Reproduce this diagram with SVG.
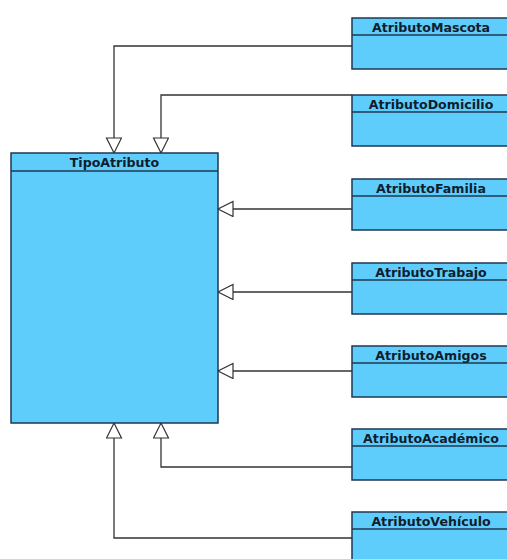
<svg xmlns="http://www.w3.org/2000/svg" width="507" height="559" viewBox="0 0 507 559">
<defs>
<style>
.box{fill:#5ecdfb;stroke:#1f3852;stroke-width:1.5}
.sep{stroke:#1f3852;stroke-width:1.5}
.t{font-family:"DejaVu Sans",sans-serif;font-weight:bold;font-size:12.6px;fill:#111c2e;text-anchor:middle}
.c{fill:none;stroke:#333;stroke-width:1.3}
</style>
<marker id="tri" markerWidth="18" markerHeight="18" refX="16" refY="8" orient="auto" markerUnits="userSpaceOnUse">
<path d="M1,0.5 L16,8 L1,15.5 Z" fill="#fff" stroke="#333" stroke-width="1.2"/>
</marker>
</defs>
<rect width="507" height="559" fill="#fff"/>
<g id="connectors">
<path class="c" d="M352,46 H114 V153" marker-end="url(#tri)"/>
<path class="c" d="M352,95 H161 V153" marker-end="url(#tri)"/>
<path class="c" d="M352,209 H218" marker-end="url(#tri)"/>
<path class="c" d="M352,292 H218" marker-end="url(#tri)"/>
<path class="c" d="M352,371 H218" marker-end="url(#tri)"/>
<path class="c" d="M352,467 H161 V423" marker-end="url(#tri)"/>
<path class="c" d="M352,538 H114 V423" marker-end="url(#tri)"/>
</g>
<g id="TipoAtributo">
<rect class="box" x="11" y="153" width="207" height="270"/>
<line class="sep" x1="11" y1="171" x2="218" y2="171"/>
<text class="t" x="114.5" y="167">TipoAtributo</text>
</g>
<g id="AtributoMascota">
<rect class="box" x="352" y="18" width="160" height="51"/>
<line class="sep" x1="352" y1="35" x2="512" y2="35"/>
<text class="t" x="431" y="31.5">AtributoMascota</text>
</g>
<g id="AtributoDomicilio">
<rect class="box" x="352" y="95" width="160" height="51"/>
<line class="sep" x1="352" y1="112" x2="512" y2="112"/>
<text class="t" x="431" y="108.5">AtributoDomicilio</text>
</g>
<g id="AtributoFamilia">
<rect class="box" x="352" y="179" width="160" height="51"/>
<line class="sep" x1="352" y1="196" x2="512" y2="196"/>
<text class="t" x="431" y="192.5">AtributoFamilia</text>
</g>
<g id="AtributoTrabajo">
<rect class="box" x="352" y="263" width="160" height="51"/>
<line class="sep" x1="352" y1="280" x2="512" y2="280"/>
<text class="t" x="431" y="276.5">AtributoTrabajo</text>
</g>
<g id="AtributoAmigos">
<rect class="box" x="352" y="346" width="160" height="51"/>
<line class="sep" x1="352" y1="363" x2="512" y2="363"/>
<text class="t" x="431" y="359.5">AtributoAmigos</text>
</g>
<g id="AtributoAcademico">
<rect class="box" x="352" y="429" width="160" height="51"/>
<line class="sep" x1="352" y1="446" x2="512" y2="446"/>
<text class="t" x="431" y="442.5">AtributoAcadémico</text>
</g>
<g id="AtributoVehiculo">
<rect class="box" x="352" y="512" width="160" height="51"/>
<line class="sep" x1="352" y1="529" x2="512" y2="529"/>
<text class="t" x="431" y="525.5">AtributoVehículo</text>
</g>
</svg>
